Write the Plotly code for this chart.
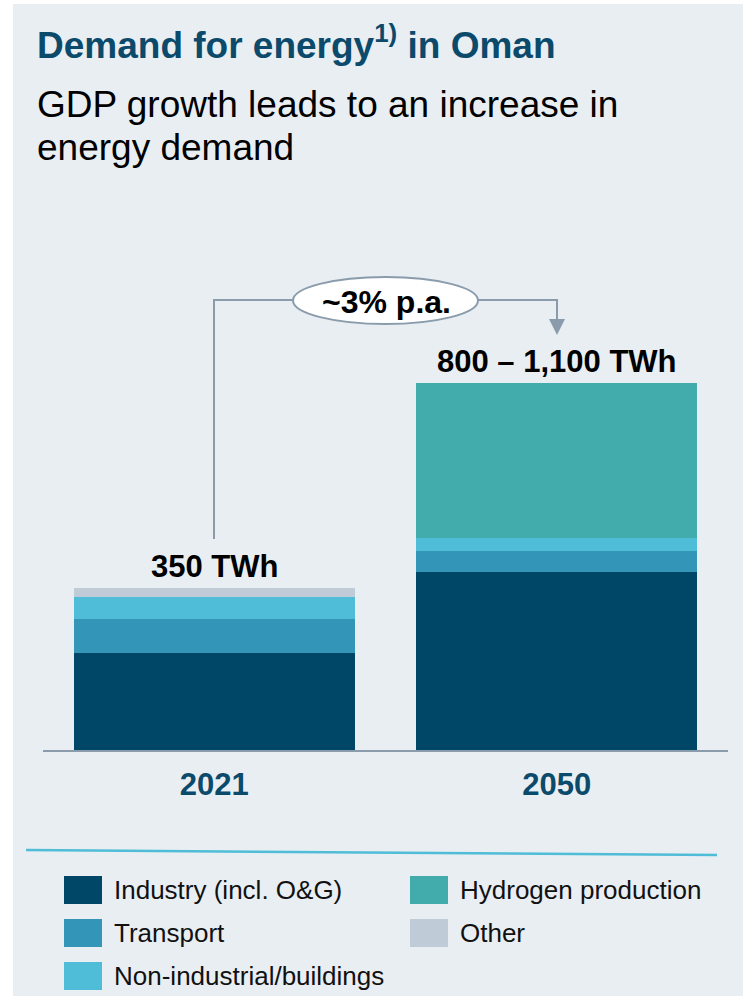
import plotly.graph_objects as go

# ---------------- data ----------------
categories = ["2021", "2050"]
series_names = ["Industry (incl. O&G)", "Transport", "Non-industrial/buildings", "Other", "Hydrogen production"]
industry = [210, 385]
transport = [73, 45]
non_industrial = [48, 28]
other = [19, 0]
hydrogen = [0, 335]
total_labels = ["350 TWh", "800 – 1,100 TWh"]
growth_label = "~3% p.a."
legend_order = ["Industry (incl. O&G)", "Transport", "Non-industrial/buildings", "Hydrogen production", "Other"]

colors = {
    "Industry (incl. O&G)": "#004667",
    "Transport": "#3396B9",
    "Non-industrial/buildings": "#4FBCD8",
    "Other": "#BFCCD8",
    "Hydrogen production": "#42ABAB",
}
values = {
    "Industry (incl. O&G)": industry,
    "Transport": transport,
    "Non-industrial/buildings": non_industrial,
    "Other": other,
    "Hydrogen production": hydrogen,
}

W, H = 743, 996
L, R, T, B = 43, 728, 287, 750  # plot area in pixels
FONT = "Liberation Sans, Arial, sans-serif"
PANEL = "#E9EEF3"
DARK = "#0B4A6B"
GREY = "#8A9BAC"


def px(x):
    return (x - L) / (R - L)


def py(y):
    return (B - y) / (B - T)


fig = go.Figure()
for name in series_names:
    fig.add_trace(go.Bar(
        x=categories, y=values[name], name=name,
        marker=dict(color=colors[name], line=dict(width=0)),
        showlegend=False, hoverinfo="skip",
    ))

totals = [sum(values[n][i] for n in series_names) for i in range(len(categories))]

shapes = []
annotations = []

# white strips outside the panel
shapes.append(dict(type="rect", xref="paper", yref="paper", x0=px(0), x1=px(13), y0=py(0), y1=py(H),
                   fillcolor="white", line=dict(width=0), layer="below"))
shapes.append(dict(type="rect", xref="paper", yref="paper", x0=px(0), x1=px(W), y0=py(0), y1=py(4),
                   fillcolor="white", line=dict(width=0), layer="below"))

# title & subtitle
annotations.append(dict(xref="paper", yref="paper", x=px(35), y=py(42), xanchor="left", yanchor="middle",
                        text="<b>Demand for energy<sup style='font-size:20px'>1)</sup> in Oman</b>", showarrow=False,
                        font=dict(family=FONT, size=37, color=DARK)))
annotations.append(dict(xref="paper", yref="paper", x=px(35), y=py(105), xanchor="left", yanchor="middle",
                        text="GDP growth leads to an increase in", showarrow=False,
                        font=dict(family=FONT, size=37, color="#000000")))
annotations.append(dict(xref="paper", yref="paper", x=px(35), y=py(148), xanchor="left", yanchor="middle",
                        text="energy demand", showarrow=False,
                        font=dict(family=FONT, size=37, color="#000000")))

# totals (x given as category index)
for i, (t, lab) in enumerate(zip(totals, total_labels)):
    annotations.append(dict(x=i, y=t, xref="x", yref="y", yanchor="bottom", xanchor="center",
                            text=f"<b>{lab}</b>", showarrow=False, yshift=2,
                            font=dict(family=FONT, size=31, color="#000000")))

# growth connector
lw = 2
shapes.append(dict(type="line", xref="paper", yref="paper", x0=px(214), x1=px(214), y0=py(539), y1=py(300),
                   line=dict(color=GREY, width=lw)))
shapes.append(dict(type="line", xref="paper", yref="paper", x0=px(213), x1=px(300), y0=py(300), y1=py(300),
                   line=dict(color=GREY, width=lw)))
shapes.append(dict(type="line", xref="paper", yref="paper", x0=px(470), x1=px(557), y0=py(300), y1=py(300),
                   line=dict(color=GREY, width=lw)))
shapes.append(dict(type="line", xref="paper", yref="paper", x0=px(557), x1=px(557), y0=py(299), y1=py(320),
                   line=dict(color=GREY, width=lw)))
shapes.append(dict(type="path", xref="paper", yref="paper",
                   path=f"M {px(549)} {py(319)} L {px(565)} {py(319)} L {px(557)} {py(335)} Z",
                   fillcolor=GREY, line=dict(width=0)))
shapes.append(dict(type="circle", xref="paper", yref="paper", x0=px(293), x1=px(478), y0=py(277), y1=py(324),
                   fillcolor="white", line=dict(color=GREY, width=2)))
annotations.append(dict(xref="paper", yref="paper", x=px(386), y=py(302), xanchor="center", yanchor="middle",
                        text=f"<b>{growth_label}</b>", showarrow=False,
                        font=dict(family=FONT, size=32, color="#000000")))

# separator line
shapes.append(dict(type="line", xref="paper", yref="paper", x0=px(26), x1=px(717), y0=py(850), y1=py(855),
                   line=dict(color="#4FBCD8", width=2.5)))

# legend
legend_pos = [(64, 890), (64, 933), (64, 976), (410, 890), (410, 933)]
for name, (lx, ly) in zip(legend_order, legend_pos):
    shapes.append(dict(type="rect", xref="paper", yref="paper", x0=px(lx), x1=px(lx + 38),
                       y0=py(ly - 14), y1=py(ly + 14), fillcolor=colors[name], line=dict(width=0)))
    annotations.append(dict(xref="paper", yref="paper", x=px(lx + 48), y=py(ly), xanchor="left", yanchor="middle",
                            text=name, showarrow=False,
                            font=dict(family=FONT, size=26, color="#111111")))

fig.update_layout(
    width=W, height=H,
    margin=dict(l=L, r=W - R, t=T, b=H - B, pad=0),
    paper_bgcolor=PANEL, plot_bgcolor=PANEL,
    barmode="stack", bargap=0.18,
    showlegend=False,
    shapes=shapes, annotations=annotations,
    font=dict(family=FONT),
)
fig.update_xaxes(
    type="category", range=[-0.5, 1.5], showline=True, linecolor=GREY, linewidth=2,
    showgrid=False, zeroline=False, ticks="",
    tickmode="array", tickvals=categories, ticktext=[f"<b>{c}</b>" for c in categories],
    tickfont=dict(family=FONT, size=31, color=DARK), ticklabelstandoff=6,
)
fig.update_yaxes(range=[0, 1000], visible=False, showgrid=False, zeroline=False)

fig.write_html("out.html")
